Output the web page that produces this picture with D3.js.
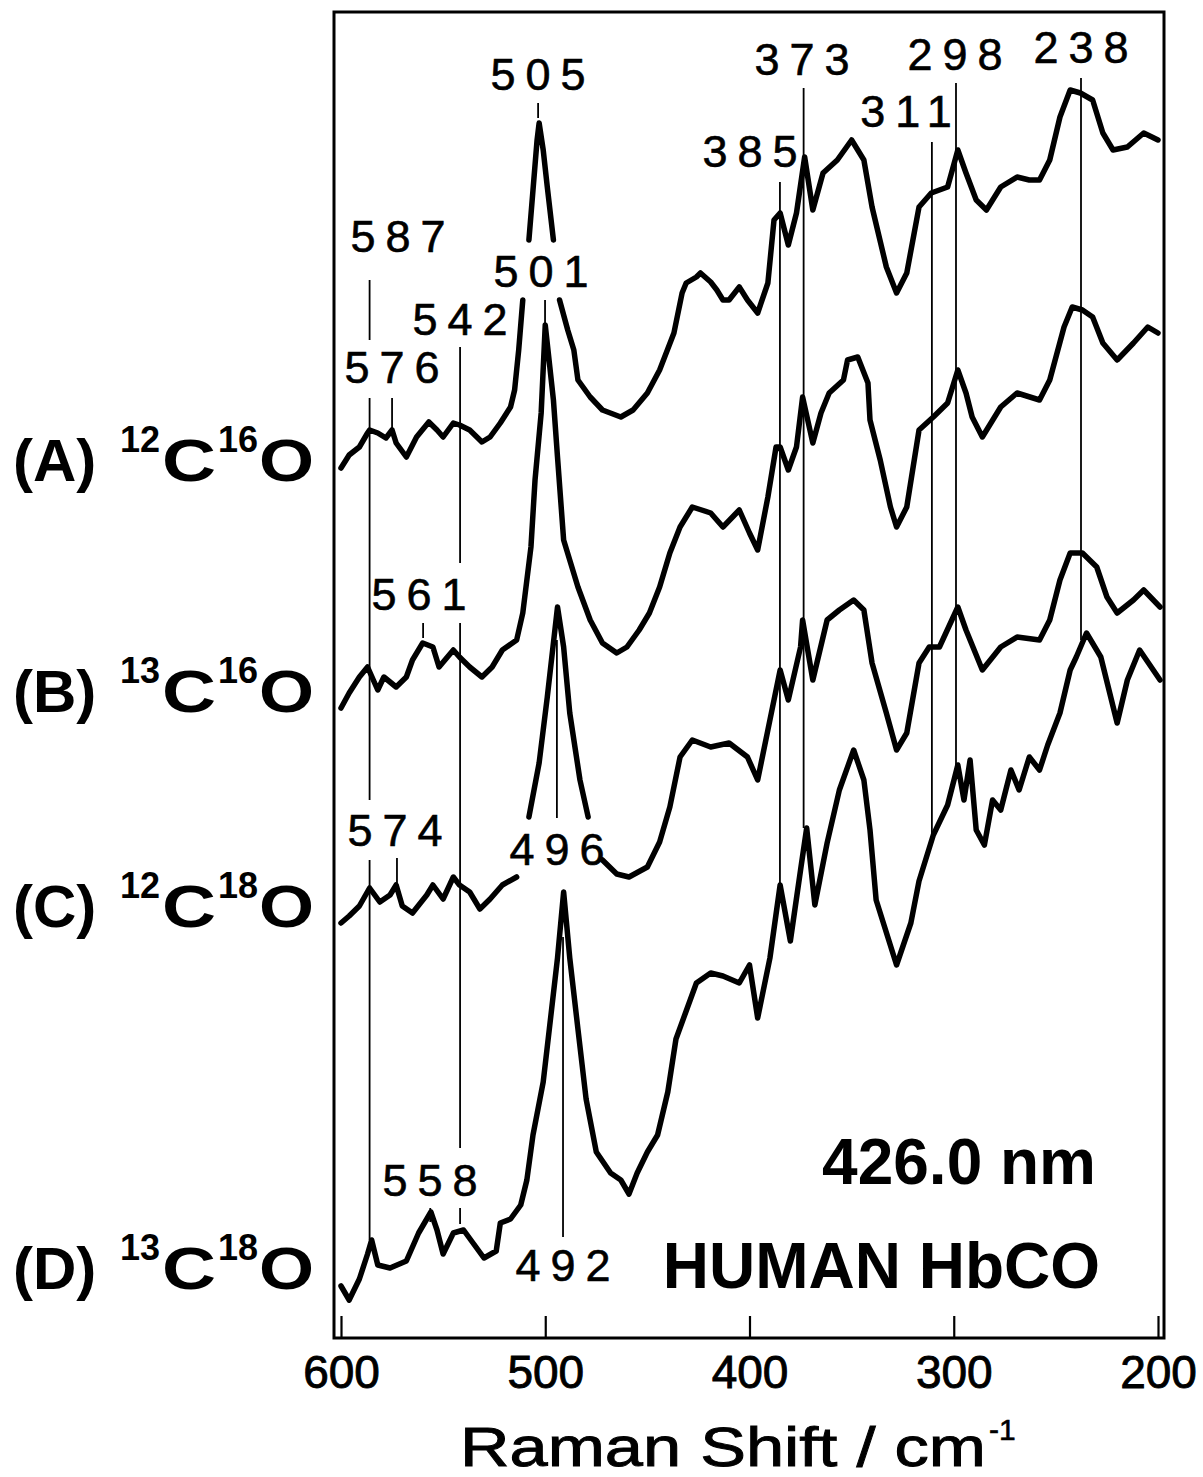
<!DOCTYPE html>
<html>
<head>
<meta charset="utf-8">
<script src="https://cdn.jsdelivr.net/npm/d3@7"></script>
<style>
  html, body { margin: 0; padding: 0; background: #fff; }
  svg { display: block; font-family: "Liberation Sans", Arial, Helvetica, sans-serif; }
</style>
</head>
<body>
<div id="js_chart"></div>
<script>
// Raman shift (cm-1), intensity (arb. units). null = break in the trace (label gap)
const specA = [[600,870],[596,883],[591,891],[587,905],[586,908],[582,905],[578,900],[575,908],[573,895],[568,881],[563,901],[557,916],[553,908],[550,901],[545,915],[542,913],[537,908],[531,896],[527,901],[522,915],[517,931],[515,948],[513,988],[511,1038],null,[508,1098],[506,1148],[504,1198],[503,1215],[501,1188],[499,1151],[496,1098],null,[493,1038],[489,1008],[486,988],[484,958],[478,941],[472,928],[463,921],[457,928],[450,945],[444,968],[437,1005],[433,1045],[431,1055],[426,1061],[424,1065],[419,1056],[416,1048],[413,1038],[410,1038],[405,1051],[401,1038],[396,1025],[391,1055],[388,1118],[385,1125],[381,1093],[377,1125],[373,1181],[369,1128],[364,1165],[357,1178],[350,1198],[344,1178],[340,1131],[333,1071],[328,1045],[323,1065],[317,1131],[311,1145],[303,1151],[298,1188],[294,1165],[289,1138],[284,1128],[277,1151],[269,1161],[263,1158],[258,1158],[253,1178],[248,1221],[243,1248],[238,1245],[232,1238],[227,1205],[222,1188],[215,1191],[207,1205],[200,1198]];

const specB = [[600,630],[596,645],[591,661],[587,671],[582,648],[579,661],[573,651],[568,661],[565,678],[560,695],[555,691],[552,671],[545,688],[542,681],[537,671],[531,661],[526,671],[521,688],[514,698],[511,725],[507,791],[505,858],[502,925],[500,1013],[496,938],[494,881],[491,798],[484,751],[478,718],[472,695],[465,685],[460,691],[454,708],[449,725],[444,751],[439,785],[434,811],[428,831],[419,825],[413,811],[405,828],[400,805],[396,788],[391,841],[387,891],[385,891],[381,868],[377,891],[374,941],[369,895],[365,925],[361,945],[354,958],[352,978],[347,981],[342,955],[341,918],[336,878],[331,831],[328,811],[323,831],[317,908],[310,921],[303,935],[298,968],[294,945],[291,921],[286,901],[277,931],[269,945],[258,938],[253,958],[246,1011],[242,1031],[237,1028],[232,1021],[227,995],[220,978],[212,995],[205,1011],[200,1005]];

const specC = [[600,415],[596,422],[591,432],[586,450],[581,436],[576,443],[573,453],[570,432],[565,425],[558,443],[555,453],[550,439],[545,461],[542,453],[537,446],[532,429],[527,439],[521,453],[514,461],null,[508,521],[503,575],[499,641],[494,731],[491,691],[488,625],[483,558],[479,521],null,[472,478],[465,464],[459,461],[450,471],[444,496],[439,531],[434,581],[428,598],[419,591],[410,595],[401,581],[396,558],[391,608],[385,668],[381,638],[375,691],[374,718],[369,658],[362,718],[356,728],[349,738],[344,728],[340,675],[333,625],[328,588],[323,605],[317,675],[312,691],[307,691],[298,731],[294,708],[286,668],[277,691],[269,701],[258,698],[253,718],[248,758],[243,785],[237,785],[230,771],[225,741],[220,725],[212,738],[207,748],[199,731]];

const specD = [[600,52],[596,38],[591,59],[587,84],[585,98],[582,73],[576,70],[568,77],[562,105],[556,126],[553,108],[550,84],[545,105],[540,108],[535,94],[530,80],[524,87],[522,115],[517,119],[512,133],[509,158],[506,203],[501,256],[498,309],[494,380],[491,446],[488,380],[484,309],[480,239],[475,186],[468,165],[463,158],[459,144],[455,165],[450,186],[445,203],[440,246],[436,299],[431,327],[426,355],[419,365],[413,362],[405,355],[400,373],[396,320],[390,380],[385,453],[380,397],[375,468],[372,510],[368,433],[362,495],[356,548],[349,588],[344,558],[341,508],[338,438],[328,373],[321,415],[317,457],[310,503],[303,533],[298,573],[295,538],[292,578],[289,508],[285,493],[281,538],[277,528],[272,568],[268,548],[263,581],[258,568],[254,593],[248,625],[243,668],[240,681],[235,705],[228,681],[220,615],[215,658],[209,688],[199,658]];

const spectra = [specA, specB, specC, specD];
const sampleTags = ["(A)", "(B)", "(C)", "(D)"];
const carbonMass = ["12", "13", "12", "13"];
const oxygenMass = ["16", "16", "18", "18"];
const xTicks = [600, 500, 400, 300, 200];
const peakLabels = ["505", "587", "501", "542", "576", "385", "373", "311", "298", "238", "561", "574", "496", "558", "492"];

// ---- layout ----
const W = 1203, H = 1477;
const frame = {left: 334, right: 1164, top: 12, bottom: 1338};

const x = d3.scaleLinear().domain([600, 200]).range([341, 1158]);
const y = d3.scaleLinear().domain([0, 1326]).range([frame.bottom, frame.top]);

// marker lines: position (cm-1) and vertical pieces in px
const markerLayout = [
  {cm: 586, segs: [[280,340],[398,800],[860,1240]]},
  {cm: 575, segs: [[398,430]]},
  {cm: 541.7, segs: [[347,563],[623,1148],[1208,1224]]},
  {cm: 559.8, segs: [[623,638]]},
  {cm: 572.6, segs: [[858,884]]},
  {cm: 556.3, segs: [[1208,1222]]},
  {cm: 503.5, segs: [[103,118]]},
  {cm: 500.1, segs: [[300,325]]},
  {cm: 494.3, segs: [[640,818]]},
  {cm: 491.3, segs: [[937,1237]]},
  {cm: 385.1, segs: [[182,885]]},
  {cm: 373.5, segs: [[88,828]]},
  {cm: 310.7, segs: [[142,835]]},
  {cm: 298.9, segs: [[83,775]]},
  {cm: 237.7, segs: [[78,640]]}
];

// peak label centres (px) and baselines
const labelPos = {
  "505": [538, 90], "587": [398, 252], "501": [541, 287], "542": [460, 335],
  "576": [392, 383], "385": [750, 167], "373": [802, 75], "311": [906, 127],
  "298": [955, 70], "238": [1081, 63], "561": [419, 610], "574": [395, 846],
  "496": [557, 865], "558": [430, 1196], "492": [563, 1281]
};
const tagBaselines = [481, 712, 927, 1289];

const svg = d3.select("#js_chart")
  .append("svg")
  .attr("width", W)
  .attr("height", H)
  .attr("viewBox", [0, 0, W, H]);

svg.append("rect").attr("width", W).attr("height", H).attr("fill", "#fff");

// peak marker lines
const mk = svg.append("g").attr("stroke", "#000").attr("stroke-width", 1.8);
markerLayout.forEach(m => {
  m.segs.forEach(s => {
    mk.append("line")
      .attr("x1", x(m.cm)).attr("x2", x(m.cm))
      .attr("y1", s[0]).attr("y2", s[1]);
  });
});

// spectra
const line = d3.line()
  .defined(d => d !== null)
  .x(d => x(d[0]))
  .y(d => y(d[1]));

svg.append("g")
  .selectAll("path")
  .data(spectra)
  .join("path")
    .attr("fill", "none")
    .attr("stroke", "#000")
    .attr("stroke-width", 5.5)
    .attr("stroke-linejoin", "round")
    .attr("stroke-linecap", "round")
    .attr("d", line);

// frame
svg.append("rect")
  .attr("x", frame.left).attr("y", frame.top)
  .attr("width", frame.right - frame.left)
  .attr("height", frame.bottom - frame.top)
  .attr("fill", "none")
  .attr("stroke", "#000")
  .attr("stroke-width", 3);

// x axis, ticks pointing inward
const axis = svg.append("g")
  .attr("transform", `translate(0,${frame.bottom})`)
  .call(d3.axisBottom(x).tickValues(xTicks).tickSizeInner(-22).tickSizeOuter(0).tickPadding(17));
axis.select(".domain").remove();
axis.selectAll(".tick line").attr("stroke", "#000").attr("stroke-width", 2.2);
axis.selectAll(".tick text")
  .attr("fill", "#000")
  .attr("stroke", "#000")
  .attr("stroke-width", 0.9)
  .style("font-size", "46px")
  .style("font-family", "'Liberation Sans', Arial, sans-serif");

// axis title
svg.append("text")
  .attr("x", 460).attr("y", 1466)
  .attr("textLength", 526)
  .attr("lengthAdjust", "spacingAndGlyphs")
  .attr("stroke", "#000").attr("stroke-width", 0.9)
  .style("font-size", "56px")
  .text("Raman Shift / cm");
svg.append("text")
  .attr("x", 989).attr("y", 1440)
  .style("font-size", "30px")
  .attr("stroke", "#000").attr("stroke-width", 0.6)
  .text("-1");

// peak labels
const ls = 10;
svg.append("g")
  .selectAll("text")
  .data(peakLabels)
  .join("text")
    .attr("x", d => labelPos[d][0] + ls / 2)
    .attr("y", d => labelPos[d][1])
    .attr("text-anchor", "middle")
    .attr("stroke", "#000")
    .attr("stroke-width", 0.6)
    .style("letter-spacing", ls + "px")
    .style("font-size", "45px")
    .text(d => d);

// sample labels (A)-(D)
const tags = svg.append("g").style("font-weight", "bold");
sampleTags.forEach((t, i) => {
  const b = tagBaselines[i];
  tags.append("text").attr("x", 13).attr("y", b).style("font-size", "60px").text(t);
  tags.append("text").attr("x", 120).attr("y", b - 29).style("font-size", "36px").text(carbonMass[i]);
  tags.append("text").attr("x", 162).attr("y", b).style("font-size", "60px")
    .attr("textLength", 54).attr("lengthAdjust", "spacingAndGlyphs").text("C");
  tags.append("text").attr("x", 218).attr("y", b - 29).style("font-size", "36px").text(oxygenMass[i]);
  tags.append("text").attr("x", 259).attr("y", b).style("font-size", "60px")
    .attr("textLength", 55).attr("lengthAdjust", "spacingAndGlyphs").text("O");
});

// annotations
svg.append("text")
  .attr("x", 1096).attr("y", 1184)
  .attr("text-anchor", "end")
  .style("font-weight", "bold").style("font-size", "64px")
  .text("426.0 nm");
svg.append("text")
  .attr("x", 1100).attr("y", 1288)
  .attr("text-anchor", "end")
  .style("font-weight", "bold").style("font-size", "64px")
  .text("HUMAN HbCO");
</script>
</body>
</html>
